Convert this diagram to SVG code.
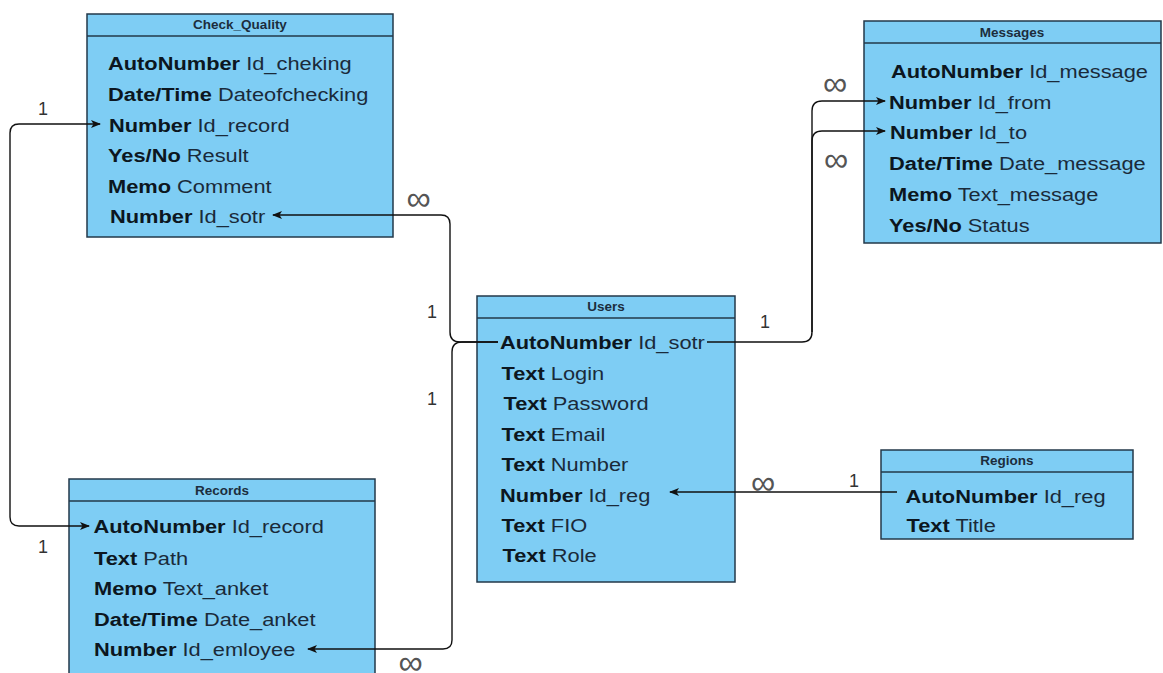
<svg xmlns="http://www.w3.org/2000/svg" width="1163" height="673" viewBox="0 0 1163 673">
<style>
.box{fill:#7ECDF4;stroke:#23384A;stroke-width:1.5}
.hdr{stroke:#23384A;stroke-width:1.5}
.ttl{font-family:"Liberation Sans",Arial,sans-serif;font-size:13.5px;font-weight:bold;fill:#1c2d3d;text-anchor:middle}
.row{font-family:"Liberation Sans",Arial,sans-serif;font-size:18.5px;fill:#1a2a3a}
.b{font-weight:bold;fill:#0c1620}
.con{fill:none;stroke:#111;stroke-width:1.4}
.lbl{font-family:"Liberation Sans",Arial,sans-serif;font-size:18px;fill:#333;text-anchor:middle}
.inf{font-family:"Noto Sans","DejaVu Sans",sans-serif;font-weight:300;font-size:34px;fill:#555;text-anchor:middle}
</style>
<defs>
<marker id="arr" viewBox="0 0 10 8" refX="9" refY="4" markerWidth="10" markerHeight="8" markerUnits="userSpaceOnUse" orient="auto">
<path d="M0,0 L10,4 L0,8 L2.5,4 z" fill="#111"/>
</marker>
<marker id="arrS" viewBox="0 0 10 8" refX="9" refY="4" markerWidth="10" markerHeight="8" markerUnits="userSpaceOnUse" orient="auto-start-reverse">
<path d="M0,0 L10,4 L0,8 L2.5,4 z" fill="#111"/>
</marker>
</defs>
<rect width="1163" height="673" fill="#ffffff"/>

<g id="check_quality">
<rect class="box" x="87" y="14" width="306" height="223"/>
<line class="hdr" x1="87" y1="36" x2="393" y2="36"/>
<text class="ttl" x="240" y="29">Check_Quality</text>
<text class="row" transform="translate(108,70) scale(1.18,1)"><tspan class="b">AutoNumber</tspan> Id_cheking</text>
<text class="row" transform="translate(108,101) scale(1.18,1)"><tspan class="b">Date/Time</tspan> Dateofchecking</text>
<text class="row" transform="translate(109,132) scale(1.18,1)"><tspan class="b">Number</tspan> Id_record</text>
<text class="row" transform="translate(108,162) scale(1.18,1)"><tspan class="b">Yes/No</tspan> Result</text>
<text class="row" transform="translate(108,193) scale(1.18,1)"><tspan class="b">Memo</tspan> Comment</text>
<text class="row" transform="translate(110,223) scale(1.18,1)"><tspan class="b">Number</tspan> Id_sotr</text>
</g>

<g id="messages">
<rect class="box" x="864" y="21" width="297" height="222"/>
<line class="hdr" x1="864" y1="43" x2="1161" y2="43"/>
<text class="ttl" x="1012" y="36.5">Messages</text>
<text class="row" transform="translate(891,78) scale(1.18,1)"><tspan class="b">AutoNumber</tspan> Id_message</text>
<text class="row" transform="translate(889,109) scale(1.18,1)"><tspan class="b">Number</tspan> Id_from</text>
<text class="row" transform="translate(890,139) scale(1.18,1)"><tspan class="b">Number</tspan> Id_to</text>
<text class="row" transform="translate(889,170) scale(1.18,1)"><tspan class="b">Date/Time</tspan> Date_message</text>
<text class="row" transform="translate(889,201) scale(1.18,1)"><tspan class="b">Memo</tspan> Text_message</text>
<text class="row" transform="translate(889,232) scale(1.18,1)"><tspan class="b">Yes/No</tspan> Status</text>
</g>

<g id="users">
<rect class="box" x="477" y="296" width="258" height="286"/>
<line class="hdr" x1="477" y1="318" x2="735" y2="318"/>
<text class="ttl" x="606" y="311">Users</text>
<text class="row" transform="translate(500,349) scale(1.18,1)"><tspan class="b">AutoNumber</tspan> Id_sotr</text>
<text class="row" transform="translate(501.5,380) scale(1.18,1)"><tspan class="b">Text</tspan> Login</text>
<text class="row" transform="translate(503.5,410) scale(1.18,1)"><tspan class="b">Text</tspan> Password</text>
<text class="row" transform="translate(501.5,441) scale(1.18,1)"><tspan class="b">Text</tspan> Email</text>
<text class="row" transform="translate(501.5,471) scale(1.18,1)"><tspan class="b">Text</tspan> Number</text>
<text class="row" transform="translate(500,501.5) scale(1.18,1)"><tspan class="b">Number</tspan> Id_reg</text>
<text class="row" transform="translate(501.5,532) scale(1.18,1)"><tspan class="b">Text</tspan> FIO</text>
<text class="row" transform="translate(502.5,562) scale(1.18,1)"><tspan class="b">Text</tspan> Role</text>
</g>

<g id="records">
<rect class="box" x="69" y="479" width="306" height="230"/>
<line class="hdr" x1="69" y1="501" x2="375" y2="501"/>
<text class="ttl" x="222" y="495">Records</text>
<text class="row" transform="translate(93.5,533) scale(1.18,1)"><tspan class="b">AutoNumber</tspan> Id_record</text>
<text class="row" transform="translate(94,565) scale(1.18,1)"><tspan class="b">Text</tspan> Path</text>
<text class="row" transform="translate(94,595) scale(1.18,1)"><tspan class="b">Memo</tspan> Text_anket</text>
<text class="row" transform="translate(94,626) scale(1.18,1)"><tspan class="b">Date/Time</tspan> Date_anket</text>
<text class="row" transform="translate(94,655.5) scale(1.18,1)"><tspan class="b">Number</tspan> Id_emloyee</text>
</g>

<g id="regions">
<rect class="box" x="881" y="450" width="252" height="89"/>
<line class="hdr" x1="881" y1="472" x2="1133" y2="472"/>
<text class="ttl" x="1007" y="465">Regions</text>
<text class="row" transform="translate(905.5,503) scale(1.18,1)"><tspan class="b">AutoNumber</tspan> Id_reg</text>
<text class="row" transform="translate(906.5,532) scale(1.18,1)"><tspan class="b">Text</tspan> Title</text>
</g>

<g id="connectors">
<path class="con" d="M 100 124 L 19 124 Q 10 124 10 133 L 10 517 Q 10 526 19 526 L 89 526" marker-start="url(#arrS)" marker-end="url(#arr)"/>
<path class="con" d="M 498 342 L 460 342 Q 450 342 450 332 L 450 224 Q 450 215 441 215 L 273 215" marker-end="url(#arr)"/>
<path class="con" d="M 498 342 L 462 342 Q 452 342 452 352 L 452 640 Q 452 649 443 649 L 308 649" marker-end="url(#arr)"/>
<path class="con" d="M 707 342 L 802 342 Q 812 342 812 332 L 812 111 Q 812 101 822 101 L 885 101" marker-end="url(#arr)"/>
<path class="con" d="M 812 332 L 812 141 Q 812 131 822 131 L 885 131" marker-end="url(#arr)"/>
<path class="con" d="M 897 492 L 670 492" marker-end="url(#arr)"/>
</g>

<g id="labels">
<text class="lbl" x="43" y="115">1</text>
<text class="lbl" x="43" y="553">1</text>
<text class="inf" x="418.5" y="209.5">∞</text>
<text class="lbl" x="432" y="318">1</text>
<text class="lbl" x="432" y="405">1</text>
<text class="inf" x="410.5" y="674">∞</text>
<text class="inf" x="835" y="94.5">∞</text>
<text class="inf" x="836" y="170.5">∞</text>
<text class="lbl" x="765" y="328">1</text>
<text class="inf" x="763" y="493.5">∞</text>
<text class="lbl" x="854" y="487">1</text>
</g>
</svg>
